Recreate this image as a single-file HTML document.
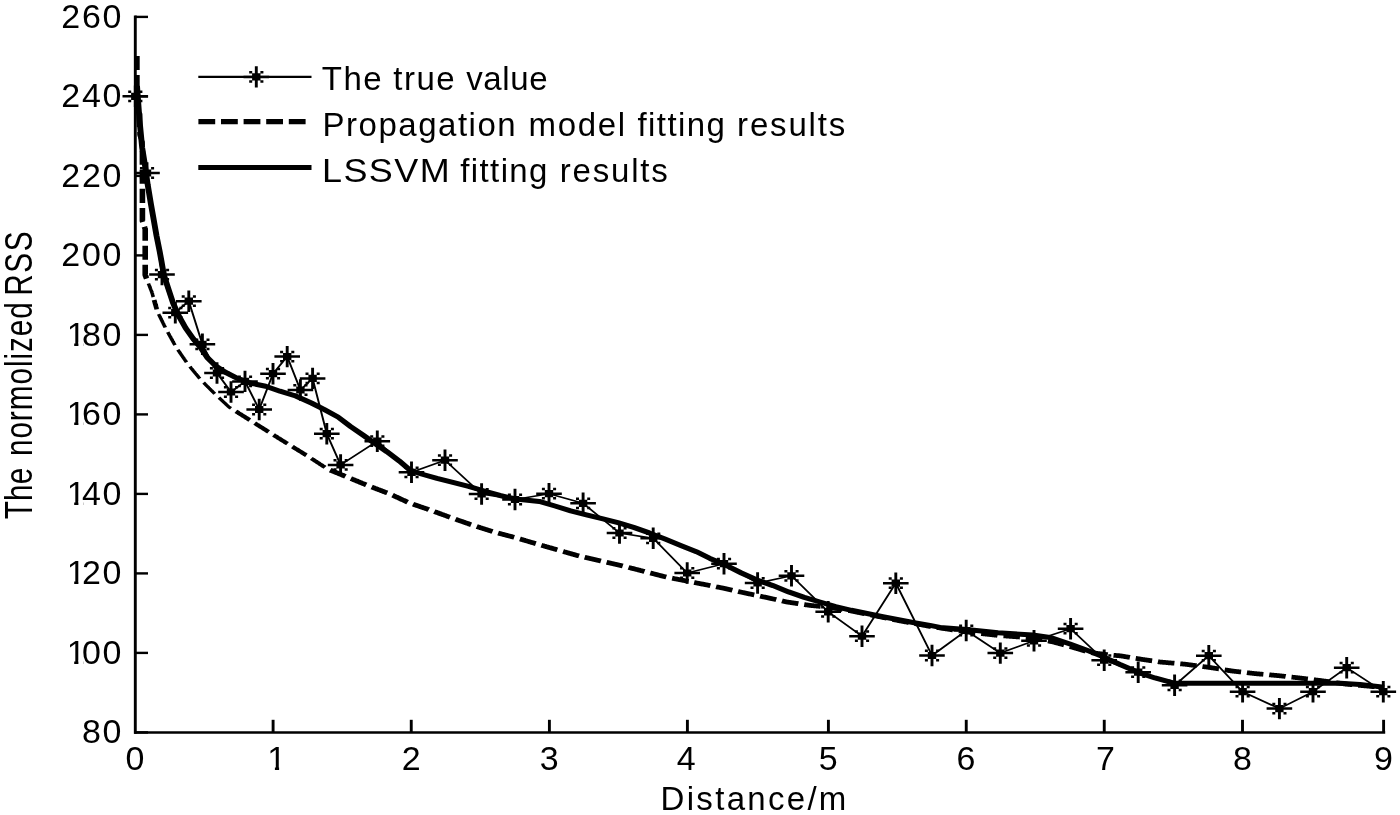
<!DOCTYPE html>
<html lang="en"><head><meta charset="utf-8"><title>RSS fitting</title>
<style>
html,body{margin:0;padding:0;background:#fff;}
body{width:1400px;height:815px;overflow:hidden;}
svg{display:block;filter:grayscale(1);}
text{font-family:"Liberation Sans",Arial,Helvetica,sans-serif;fill:#000;}
.tk{font-size:33px;}
.lg{font-size:33px;}
</style></head><body>
<svg width="1400" height="815" viewBox="0 0 1400 815">
<rect width="1400" height="815" fill="#fff"/>

<g stroke="#000" stroke-width="2.6" fill="none">
<line x1="135.3" y1="15.4" x2="135.3" y2="733.7" stroke-width="2.9"/>
<line x1="134" y1="732.5" x2="1385.2" y2="732.5" stroke-width="2.5"/>
<line x1="135" y1="732.40" x2="148" y2="732.40" stroke-width="2.4"/>
<line x1="135" y1="652.90" x2="148" y2="652.90" stroke-width="2.4"/>
<line x1="135" y1="573.40" x2="148" y2="573.40" stroke-width="2.4"/>
<line x1="135" y1="493.90" x2="148" y2="493.90" stroke-width="2.4"/>
<line x1="135" y1="414.40" x2="148" y2="414.40" stroke-width="2.4"/>
<line x1="135" y1="334.90" x2="148" y2="334.90" stroke-width="2.4"/>
<line x1="135" y1="255.40" x2="148" y2="255.40" stroke-width="2.4"/>
<line x1="135" y1="175.90" x2="148" y2="175.90" stroke-width="2.4"/>
<line x1="135" y1="96.40" x2="148" y2="96.40" stroke-width="2.4"/>
<line x1="135" y1="16.90" x2="148" y2="16.90" stroke-width="2.4"/>
<line x1="273.10" y1="719.8" x2="273.10" y2="732.5" stroke-width="2.9"/>
<line x1="411.25" y1="719.8" x2="411.25" y2="732.5" stroke-width="2.9"/>
<line x1="549.40" y1="719.8" x2="549.40" y2="732.5" stroke-width="2.9"/>
<line x1="687.40" y1="719.8" x2="687.40" y2="732.5" stroke-width="2.9"/>
<line x1="828.40" y1="719.8" x2="828.40" y2="732.5" stroke-width="2.9"/>
<line x1="966.25" y1="719.8" x2="966.25" y2="732.5" stroke-width="2.9"/>
<line x1="1104.25" y1="719.8" x2="1104.25" y2="732.5" stroke-width="2.9"/>
<line x1="1242.50" y1="719.8" x2="1242.50" y2="732.5" stroke-width="2.9"/>
<line x1="1383.60" y1="719.8" x2="1383.60" y2="732.5" stroke-width="2.9"/>
</g>
<text class="tk" transform="translate(123.2,743.0) scale(1.03,1)" text-anchor="end" letter-spacing="1.7">80</text>
<text class="tk" transform="translate(61.25,663.5) scale(1.03,1)" letter-spacing="1.7" dx="5.24 -5.24 0">100</text><rect x="67.85" y="660.4" width="6.35" height="4.4" fill="#fff"/><rect x="78.40" y="660.4" width="5.4" height="4.4" fill="#fff"/>
<text class="tk" transform="translate(61.25,584.0) scale(1.03,1)" letter-spacing="1.7" dx="5.24 -5.24 0">120</text><rect x="67.85" y="580.9" width="6.35" height="4.4" fill="#fff"/><rect x="78.40" y="580.9" width="5.4" height="4.4" fill="#fff"/>
<text class="tk" transform="translate(61.25,504.5) scale(1.03,1)" letter-spacing="1.7" dx="5.24 -5.24 0">140</text><rect x="67.85" y="501.4" width="6.35" height="4.4" fill="#fff"/><rect x="78.40" y="501.4" width="5.4" height="4.4" fill="#fff"/>
<text class="tk" transform="translate(61.25,425.0) scale(1.03,1)" letter-spacing="1.7" dx="5.24 -5.24 0">160</text><rect x="67.85" y="421.9" width="6.35" height="4.4" fill="#fff"/><rect x="78.40" y="421.9" width="5.4" height="4.4" fill="#fff"/>
<text class="tk" transform="translate(61.25,345.5) scale(1.03,1)" letter-spacing="1.7" dx="5.24 -5.24 0">180</text><rect x="67.85" y="342.4" width="6.35" height="4.4" fill="#fff"/><rect x="78.40" y="342.4" width="5.4" height="4.4" fill="#fff"/>
<text class="tk" transform="translate(123.2,266.0) scale(1.03,1)" text-anchor="end" letter-spacing="1.7">200</text>
<text class="tk" transform="translate(123.2,186.5) scale(1.03,1)" text-anchor="end" letter-spacing="1.7">220</text>
<text class="tk" transform="translate(123.2,107.0) scale(1.03,1)" text-anchor="end" letter-spacing="1.7">240</text>
<text class="tk" transform="translate(123.2,27.5) scale(1.03,1)" text-anchor="end" letter-spacing="1.7">260</text>
<text class="tk" transform="translate(135.0,770.1) scale(1.03,1)" text-anchor="middle" letter-spacing="0">0</text>
<text class="tk" transform="translate(267.35,770.1) scale(1.03,1)">1</text><rect x="268.55" y="767.0" width="6.35" height="4.4" fill="#fff"/><rect x="279.10" y="767.0" width="7.00" height="4.4" fill="#fff"/>
<text class="tk" transform="translate(411.1,770.1) scale(1.03,1)" text-anchor="middle" letter-spacing="0">2</text>
<text class="tk" transform="translate(549.2,770.1) scale(1.03,1)" text-anchor="middle" letter-spacing="0">3</text>
<text class="tk" transform="translate(686.2,770.1) scale(1.03,1)" text-anchor="middle" letter-spacing="0">4</text>
<text class="tk" transform="translate(828.3,770.1) scale(1.03,1)" text-anchor="middle" letter-spacing="0">5</text>
<text class="tk" transform="translate(966.0,770.1) scale(1.03,1)" text-anchor="middle" letter-spacing="0">6</text>
<text class="tk" transform="translate(1105.5,770.1) scale(1.03,1)" text-anchor="middle" letter-spacing="0">7</text>
<text class="tk" transform="translate(1242.4,770.1) scale(1.03,1)" text-anchor="middle" letter-spacing="0">8</text>
<text class="tk" transform="translate(1383.5,770.1) scale(1.03,1)" text-anchor="middle" letter-spacing="0">9</text>
<text class="lg" transform="translate(660.60,810.4) scale(1.0,1)" letter-spacing="2.30">Distance/m</text>
<text class="lg" transform="translate(32.3,519.20) rotate(-90) scale(0.9,1.19)" letter-spacing="0.19">The</text>
<text class="lg" transform="translate(32.3,456.10) rotate(-90) scale(0.9,1.19)" letter-spacing="1.08">normolized</text>
<text class="lg" transform="translate(32.3,295.84) rotate(-90) scale(0.9,1.19)" letter-spacing="1.84">RSS</text>
<g transform="scale(2.8,2.38)" fill="none" stroke="#000" stroke-linejoin="round">
<path d="M53.03,119.12 L53.09,119.32 L53.16,119.51 L53.22,119.70 L53.28,119.89 L53.35,120.08 L53.41,120.27 L53.47,120.46 L53.53,120.65 L53.60,120.84 L53.66,121.03 L53.72,121.22 L53.78,121.41 L53.85,121.61 L53.91,121.80 L53.97,121.99 L54.04,122.18 L54.10,122.37 L54.16,122.56 L54.22,122.75 L54.29,122.94 L54.33,123.14 L54.38,123.33 L54.43,123.52 L54.48,123.72 L54.52,123.91 L54.57,124.11 L54.62,124.30 L54.66,124.50 L54.71,124.69 L54.75,124.84 M56.66,131.98 L56.74,132.17 L56.81,132.35 L56.89,132.54 L56.97,132.72 L57.05,132.91 L57.13,133.09 L57.20,133.28 L57.28,133.46 L57.36,133.65 L57.44,133.83 L57.51,134.02 L57.59,134.20 L57.67,134.39 L57.75,134.58 L57.83,134.76 L57.90,134.95 L57.98,135.13 L58.06,135.32 L58.14,135.50 L58.22,135.69 L58.29,135.87 L58.37,136.06 L58.45,136.24 L58.53,136.43 L58.60,136.61 L58.68,136.80 L58.76,136.98 L58.84,137.17 L58.92,137.36 L58.99,137.54 L59.01,137.59 M59.91,139.55 L59.99,139.73 L60.08,139.91 L60.16,140.09 L60.25,140.27 L60.33,140.45 L60.42,140.64 L60.50,140.82 L60.59,141.00 L60.68,141.18 L60.76,141.36 L60.85,141.54 L60.93,141.72 L61.02,141.90 L61.10,142.08 L61.19,142.27 L61.27,142.45 L61.36,142.63 L61.45,142.81 L61.53,142.99 L61.62,143.17 L61.70,143.35 L61.79,143.53 L61.87,143.72 L61.96,143.90 L62.04,144.08 L62.13,144.26 L62.22,144.44 L62.30,144.62 L62.39,144.80 L62.47,144.98 L62.49,145.03 M63.52,146.92 L63.62,147.10 L63.72,147.27 L63.82,147.44 L63.92,147.62 L64.02,147.79 L64.12,147.96 L64.23,148.14 L64.33,148.31 L64.43,148.48 L64.53,148.66 L64.63,148.83 L64.73,149.00 L64.83,149.18 L64.94,149.35 L65.04,149.52 L65.14,149.70 L65.24,149.87 L65.34,150.04 L65.44,150.22 L65.54,150.39 L65.65,150.56 L65.75,150.74 L65.85,150.91 L65.95,151.08 L66.05,151.26 L66.15,151.43 L66.25,151.60 L66.36,151.78 L66.46,151.95 L66.56,152.12 L66.61,152.21 M67.83,154.05 L67.94,154.21 L68.06,154.37 L68.17,154.54 L68.29,154.70 L68.40,154.87 L68.52,155.03 L68.63,155.19 L68.75,155.36 L68.86,155.52 L68.98,155.69 L69.09,155.85 L69.21,156.01 L69.32,156.18 L69.44,156.34 L69.56,156.50 L69.67,156.67 L69.79,156.83 L69.90,157.00 L70.02,157.16 L70.13,157.32 L70.25,157.49 L70.36,157.65 L70.48,157.82 L70.59,157.98 L70.71,158.14 L70.82,158.31 L70.94,158.47 L71.05,158.64 L71.17,158.80 L71.28,158.96 L71.34,159.05 M72.72,160.77 L72.85,160.92 L72.98,161.07 L73.11,161.22 L73.24,161.38 L73.37,161.53 L73.50,161.68 L73.63,161.84 L73.76,161.99 L73.89,162.14 L74.02,162.30 L74.15,162.45 L74.28,162.60 L74.41,162.75 L74.54,162.91 L74.67,163.06 L74.80,163.21 L74.93,163.37 L75.06,163.52 L75.19,163.67 L75.32,163.83 L75.45,163.98 L75.58,164.13 L75.71,164.28 L75.84,164.44 L75.97,164.59 L76.10,164.74 L76.23,164.90 L76.36,165.05 L76.49,165.20 L76.62,165.35 L76.72,165.47 M78.20,167.10 L78.34,167.24 L78.47,167.39 L78.61,167.54 L78.75,167.69 L78.88,167.83 L79.02,167.98 L79.15,168.13 L79.29,168.28 L79.42,168.42 L79.56,168.57 L79.69,168.72 L79.83,168.87 L79.96,169.02 L80.10,169.16 L80.23,169.31 L80.37,169.46 L80.50,169.61 L80.64,169.75 L80.77,169.90 L80.91,170.05 L81.04,170.20 L81.18,170.34 L81.31,170.49 L81.45,170.64 L81.58,170.79 L81.72,170.93 L81.87,171.07 L82.03,171.19 L82.19,171.31 L82.35,171.42 L82.51,171.54" stroke-width="1.3"/><path d="M111.19,192.59 L111.35,192.72 L111.51,192.84 L111.66,192.96 L111.82,193.08 L111.98,193.21 L112.14,193.33 L112.30,193.45 L112.45,193.57 L112.61,193.69 L112.77,193.82 L112.93,193.94 L113.09,194.06 L113.25,194.18 L113.40,194.31 L113.56,194.43 L113.72,194.55 L113.88,194.67 L114.04,194.80 L114.20,194.92 L114.35,195.04 L114.51,195.16 L114.67,195.29 L114.83,195.41 L114.99,195.53 L115.14,195.65 L115.30,195.77 L115.46,195.90 L115.62,196.02 L115.78,196.14 L115.94,196.26 L116.05,196.36" stroke-width="1.6"/><path d="M49.86,55.47 L49.86,55.67 L49.86,55.87 L49.86,56.07 L49.86,56.27 L49.86,56.47 L49.86,56.67 L49.91,56.87 L49.97,57.05 L50.03,57.24 L50.10,57.43 L50.16,57.62 L50.23,57.81 L50.29,58.00 L50.36,58.19 L50.42,58.38 L50.49,58.57 L50.55,58.76 L50.62,58.95 L50.68,59.14 L50.74,59.33 L50.81,59.52 L50.86,59.71 L50.86,59.91 L50.86,60.11 L50.86,60.31 L50.86,60.51 L50.86,60.72 L50.86,60.92 L50.86,61.12 L50.86,61.22 M55.04,126.05 L55.09,126.25 L55.14,126.44 L55.19,126.63 L55.23,126.83 L55.28,127.02 L55.33,127.22 L55.37,127.41 L55.42,127.61 L55.47,127.80 L55.52,128.00 L55.56,128.19 L55.61,128.38 L55.66,128.58 L55.71,128.77 L55.75,128.97 L55.80,129.16 L55.85,129.36 L55.90,129.55 L55.94,129.74 L55.99,129.94 L56.00,129.99 M84.24,172.82 L84.41,172.94 L84.57,173.06 L84.73,173.18 L84.89,173.30 L85.05,173.42 L85.21,173.54 L85.37,173.66 L85.53,173.77 L85.69,173.89 L85.86,174.01 L86.02,174.13 L86.18,174.25 L86.34,174.37 L86.50,174.49 L86.66,174.61 L86.82,174.73 L86.98,174.85 L87.15,174.96 L87.31,175.08 L87.47,175.20 L87.63,175.32 L87.79,175.44 L87.95,175.56 L88.11,175.68 L88.27,175.80 L88.43,175.92 L88.60,176.04 L88.76,176.15 L88.92,176.27 L89.08,176.39 L89.20,176.48 M90.97,177.79 L91.13,177.91 L91.30,178.03 L91.46,178.15 L91.62,178.27 L91.78,178.39 L91.94,178.50 L92.10,178.62 L92.26,178.74 L92.42,178.86 L92.59,178.98 L92.75,179.10 L92.91,179.22 L93.07,179.34 L93.23,179.46 L93.39,179.58 L93.55,179.69 L93.71,179.81 L93.87,179.93 L94.04,180.05 L94.20,180.17 L94.36,180.29 L94.52,180.41 L94.68,180.53 L94.84,180.65 L95.00,180.77 L95.16,180.88 L95.33,181.00 L95.49,181.12 L95.65,181.24 L95.81,181.36 L95.93,181.45 M97.70,182.76 L97.86,182.88 L98.03,183.00 L98.19,183.12 L98.35,183.23 L98.51,183.35 L98.67,183.47 L98.83,183.59 L98.99,183.71 L99.15,183.83 L99.31,183.95 L99.48,184.07 L99.64,184.19 L99.80,184.31 L99.96,184.42 L100.12,184.54 L100.28,184.66 L100.45,184.78 L100.61,184.90 L100.77,185.01 L100.93,185.13 L101.10,185.25 L101.26,185.37 L101.42,185.48 L101.58,185.60 L101.75,185.72 L101.91,185.84 L102.07,185.96 L102.23,186.07 L102.39,186.19 L102.56,186.31 L102.68,186.40 M104.42,187.66 L104.59,187.78 L104.75,187.90 L104.91,188.02 L105.07,188.13 L105.24,188.25 L105.40,188.37 L105.56,188.49 L105.72,188.61 L105.88,188.72 L106.05,188.84 L106.21,188.96 L106.37,189.08 L106.53,189.19 L106.70,189.31 L106.86,189.43 L107.02,189.55 L107.18,189.67 L107.35,189.78 L107.51,189.90 L107.67,190.02 L107.83,190.14 L108.00,190.25 L108.16,190.37 L108.32,190.49 L108.48,190.61 L108.64,190.73 L108.81,190.84 L108.97,190.96 L109.13,191.08 L109.29,191.20 L109.42,191.28" stroke-width="1.7"/><path d="M48.89,23.53 L48.89,23.73 L48.89,23.93 L48.89,24.13 L48.89,24.33 L48.89,24.53 L48.89,24.73 L48.89,24.93 L48.89,25.13 L48.89,25.33 L48.89,25.53 L48.89,25.73 L48.89,25.93 L48.89,26.13 L48.89,26.33 L48.89,26.53 L48.89,26.73 L48.89,26.93 L48.89,27.13 L48.89,27.33 L48.89,27.53 L48.89,27.74 L48.89,27.94 L48.89,28.14 L48.89,28.34 L48.89,28.54 L48.89,28.74 L48.89,28.94 L48.89,29.14 L48.89,29.34 L48.89,29.44 M48.89,31.54 L48.89,31.74 L48.89,31.94 L48.89,32.14 L48.89,32.34 L48.89,32.54 L48.89,32.74 L48.89,32.94 L48.89,33.14 L48.89,33.34 L48.89,33.54 L48.89,33.74 L48.89,33.94 L48.89,34.14 L48.89,34.34 L48.89,34.54 L48.89,34.74 L48.89,34.94 L48.89,35.14 L48.89,35.35 L48.89,35.55 L48.89,35.75 L48.89,35.95 L48.89,36.15 L48.89,36.35 L48.89,36.55 L48.89,36.75 L48.89,36.95 L48.89,37.15 L48.89,37.35 L48.89,37.45 M48.89,39.55 L48.89,39.75 L48.89,39.95 L48.89,40.15 L48.89,40.35 L48.89,40.55 L48.89,40.75 L48.89,40.95 L48.89,41.15 L48.89,41.35 L48.89,41.55 L48.89,41.75 L48.89,41.95 L48.89,42.15 L48.89,42.35 L48.89,42.55 L48.89,42.76 L48.89,42.96 L48.89,43.16 L48.89,43.36 L48.89,43.56 L48.89,43.76 L48.89,43.96 L48.89,44.16 L48.89,44.36 L48.89,44.56 L48.89,44.76 L48.89,44.96 L48.96,45.15 L49.02,45.34 L49.05,45.44 M49.71,47.47 L49.78,47.66 L49.84,47.85 L49.86,48.05 L49.86,48.25 L49.86,48.45 L49.86,48.65 L49.86,48.85 L49.86,49.05 L49.86,49.25 L49.86,49.45 L49.86,49.65 L49.86,49.85 L49.86,50.05 L49.86,50.26 L49.86,50.46 L49.86,50.66 L49.86,50.86 L49.86,51.06 L49.86,51.26 L49.86,51.46 L49.86,51.66 L49.86,51.86 L49.86,52.06 L49.86,52.26 L49.86,52.46 L49.86,52.66 L49.86,52.86 L49.86,53.06 L49.86,53.26 L49.86,53.36 M50.86,63.32 L50.86,63.52 L50.86,63.72 L50.86,63.92 L50.86,64.12 L50.86,64.32 L50.86,64.52 L50.86,64.72 L50.86,64.92 L50.86,65.12 L50.86,65.32 L50.86,65.52 L50.86,65.72 L50.86,65.92 L50.86,66.12 L50.86,66.32 L50.86,66.52 L50.86,66.72 L50.86,66.92 L50.86,67.12 L50.86,67.32 L50.86,67.52 L50.86,67.72 L50.86,67.92 L50.86,68.12 L50.86,68.33 L50.86,68.53 L50.86,68.73 L50.86,68.93 L50.86,69.13 L50.86,69.23 M50.86,71.33 L50.86,71.53 L50.86,71.73 L50.86,71.93 L50.86,72.13 L50.86,72.33 L50.86,72.53 L50.86,72.73 L50.86,72.93 L50.86,73.13 L50.86,73.33 L50.86,73.53 L50.86,73.73 L50.86,73.93 L50.86,74.13 L50.86,74.33 L50.86,74.53 L50.86,74.73 L50.86,74.93 L50.86,75.13 L50.86,75.33 L50.86,75.53 L50.86,75.73 L50.86,75.94 L50.86,76.14 L50.86,76.34 L50.86,76.54 L50.86,76.74 L50.86,76.94 L50.86,77.14 L50.86,77.24 M50.86,79.34 L50.86,79.54 L50.86,79.74 L50.86,79.94 L50.86,80.14 L50.86,80.34 L50.86,80.54 L50.86,80.74 L50.86,80.94 L50.86,81.14 L50.86,81.34 L50.86,81.54 L50.86,81.74 L50.86,81.94 L50.86,82.14 L50.86,82.34 L50.86,82.54 L50.86,82.74 L50.86,82.94 L50.86,83.14 L50.86,83.34 L50.86,83.55 L50.86,83.75 L50.86,83.95 L50.86,84.15 L50.86,84.35 L50.86,84.55 L50.86,84.75 L50.86,84.95 L50.86,85.15 L50.86,85.25 M50.86,87.35 L50.86,87.55 L50.86,87.75 L50.86,87.95 L50.86,88.15 L50.86,88.35 L50.86,88.55 L50.86,88.75 L50.86,88.95 L50.86,89.15 L50.86,89.35 L50.86,89.55 L50.86,89.75 L50.86,89.95 L50.86,90.15 L50.86,90.35 L50.86,90.55 L50.86,90.75 L50.86,90.95 L50.86,91.15 L50.86,91.36 L50.86,91.56 L50.86,91.76 L50.86,91.96 L50.86,92.16 L50.86,92.36 L50.86,92.56 L50.86,92.76 L50.89,92.95 L50.94,93.15 L50.97,93.24 M51.57,95.26 L51.63,95.45 L51.69,95.64 L51.74,95.83 L51.80,96.03 L51.86,96.22 L51.86,96.42 L51.86,96.62 L51.86,96.82 L51.86,97.02 L51.86,97.22 L51.86,97.42 L51.86,97.62 L51.86,97.82 L51.86,98.02 L51.86,98.22 L51.86,98.42 L51.86,98.62 L51.86,98.82 L51.86,99.02 L51.86,99.22 L51.86,99.42 L51.86,99.62 L51.86,99.82 L51.86,100.02 L51.86,100.22 L51.86,100.42 L51.86,100.62 L51.86,100.83 L51.86,101.03 L51.86,101.13 M51.86,103.23 L51.86,103.43 L51.86,103.63 L51.86,103.83 L51.86,104.03 L51.86,104.23 L51.86,104.43 L51.86,104.63 L51.86,104.83 L51.86,105.03 L51.86,105.23 L51.86,105.43 L51.86,105.63 L51.86,105.83 L51.86,106.03 L51.86,106.23 L51.86,106.43 L51.86,106.63 L51.86,106.83 L51.86,107.03 L51.86,107.23 L51.86,107.43 L51.86,107.63 L51.86,107.84 L51.86,108.04 L51.86,108.24 L51.86,108.44 L51.86,108.64 L51.86,108.84 L51.86,109.04 L51.86,109.14 M51.86,111.24 L51.86,111.44 L51.86,111.64 L51.86,111.84 L51.86,112.04 L51.86,112.24 L51.86,112.44 L51.86,112.64 L51.86,112.84 L51.86,113.04 L51.86,113.24 L51.86,113.44 L51.86,113.64 L51.86,113.84 L51.86,114.04 L51.86,114.24 L51.86,114.44 L51.86,114.64 L51.86,114.85 L51.86,115.05 L51.86,115.25 L51.86,115.45 L51.89,115.64 L51.95,115.83 L52.01,116.02 L52.08,116.21 L52.14,116.40 L52.20,116.60 L52.26,116.79 L52.33,116.98 L52.36,117.07 M117.91,197.51 L118.09,197.60 L118.27,197.69 L118.45,197.78 L118.63,197.86 L118.81,197.95 L118.99,198.04 L119.17,198.12 L119.35,198.21 L119.53,198.30 L119.71,198.38 L119.89,198.47 L120.07,198.56 L120.25,198.64 L120.43,198.73 L120.61,198.82 L120.79,198.90 L120.97,198.99 L121.15,199.08 L121.33,199.16 L121.51,199.25 L121.69,199.34 L121.87,199.43 L122.05,199.51 L122.24,199.60 L122.42,199.69 L122.60,199.77 L122.78,199.86 L122.96,199.95 L123.14,200.03 L123.32,200.12 L123.36,200.14 M125.30,201.08 L125.48,201.16 L125.66,201.25 L125.84,201.34 L126.02,201.42 L126.20,201.51 L126.38,201.60 L126.56,201.68 L126.74,201.77 L126.92,201.86 L127.10,201.94 L127.28,202.03 L127.46,202.12 L127.64,202.20 L127.82,202.29 L128.00,202.38 L128.18,202.46 L128.36,202.55 L128.54,202.64 L128.72,202.73 L128.90,202.81 L129.08,202.90 L129.26,202.99 L129.44,203.07 L129.62,203.16 L129.80,203.25 L129.98,203.33 L130.16,203.42 L130.34,203.51 L130.52,203.59 L130.70,203.68 L130.79,203.72 M132.75,204.63 L132.93,204.71 L133.11,204.80 L133.29,204.88 L133.48,204.96 L133.66,205.04 L133.84,205.12 L134.03,205.21 L134.21,205.29 L134.39,205.37 L134.58,205.45 L134.76,205.53 L134.94,205.62 L135.12,205.70 L135.31,205.78 L135.49,205.86 L135.67,205.94 L135.86,206.03 L136.04,206.11 L136.22,206.19 L136.40,206.27 L136.59,206.35 L136.77,206.44 L136.95,206.52 L137.14,206.60 L137.32,206.68 L137.50,206.76 L137.69,206.85 L137.87,206.93 L138.05,207.01 L138.23,207.09 L138.28,207.11 M140.21,208.07 L140.39,208.16 L140.56,208.26 L140.74,208.36 L140.92,208.45 L141.09,208.55 L141.27,208.64 L141.44,208.74 L141.62,208.84 L141.80,208.93 L141.97,209.03 L142.15,209.12 L142.33,209.22 L142.50,209.32 L142.68,209.41 L142.85,209.51 L143.03,209.60 L143.21,209.70 L143.38,209.80 L143.56,209.89 L143.74,209.99 L143.91,210.08 L144.09,210.18 L144.26,210.28 L144.44,210.37 L144.62,210.47 L144.79,210.56 L144.97,210.66 L145.15,210.76 L145.32,210.85 L145.50,210.95 L145.59,211.00 M147.52,211.84 L147.70,211.92 L147.89,211.99 L148.07,212.07 L148.26,212.14 L148.45,212.22 L148.63,212.29 L148.82,212.37 L149.01,212.44 L149.19,212.52 L149.38,212.59 L149.57,212.67 L149.75,212.74 L149.94,212.82 L150.12,212.90 L150.31,212.97 L150.50,213.05 L150.68,213.12 L150.87,213.20 L151.06,213.27 L151.24,213.35 L151.43,213.42 L151.61,213.50 L151.80,213.57 L151.99,213.65 L152.17,213.72 L152.36,213.80 L152.55,213.87 L152.73,213.95 L152.92,214.02 L153.11,214.10 L153.15,214.12 M155.10,214.94 L155.28,215.02 L155.47,215.10 L155.65,215.18 L155.84,215.25 L156.02,215.33 L156.21,215.41 L156.39,215.49 L156.58,215.57 L156.76,215.65 L156.95,215.73 L157.13,215.81 L157.32,215.89 L157.50,215.97 L157.68,216.05 L157.87,216.12 L158.05,216.20 L158.24,216.28 L158.42,216.36 L158.61,216.44 L158.79,216.52 L158.98,216.60 L159.16,216.68 L159.35,216.76 L159.53,216.84 L159.72,216.92 L159.90,216.99 L160.09,217.07 L160.27,217.15 L160.46,217.23 L160.64,217.31 L160.69,217.33 M162.68,218.16 L162.87,218.24 L163.05,218.32 L163.24,218.39 L163.42,218.47 L163.61,218.54 L163.79,218.62 L163.98,218.70 L164.17,218.77 L164.35,218.85 L164.54,218.93 L164.72,219.00 L164.91,219.08 L165.09,219.16 L165.28,219.23 L165.46,219.31 L165.65,219.39 L165.83,219.46 L166.02,219.54 L166.21,219.61 L166.39,219.69 L166.58,219.77 L166.76,219.84 L166.95,219.92 L167.13,220.00 L167.32,220.07 L167.50,220.15 L167.69,220.23 L167.88,220.30 L168.06,220.38 L168.25,220.45 M170.27,221.22 L170.45,221.29 L170.64,221.36 L170.83,221.43 L171.02,221.50 L171.21,221.57 L171.39,221.64 L171.58,221.72 L171.77,221.79 L171.96,221.86 L172.15,221.93 L172.34,222.00 L172.52,222.07 L172.71,222.14 L172.90,222.21 L173.09,222.28 L173.28,222.35 L173.46,222.42 L173.65,222.49 L173.84,222.56 L174.03,222.63 L174.22,222.70 L174.41,222.77 L174.59,222.84 L174.78,222.91 L174.97,222.98 L175.16,223.05 L175.35,223.12 L175.53,223.19 L175.72,223.27 L175.91,223.34 M177.92,223.99 L178.11,224.05 L178.30,224.11 L178.50,224.17 L178.69,224.23 L178.88,224.28 L179.07,224.34 L179.27,224.40 L179.46,224.46 L179.65,224.52 L179.84,224.58 L180.03,224.64 L180.23,224.70 L180.42,224.76 L180.61,224.82 L180.80,224.88 L181.00,224.94 L181.19,225.00 L181.38,225.06 L181.57,225.11 L181.77,225.17 L181.96,225.23 L182.15,225.29 L182.34,225.35 L182.53,225.41 L182.73,225.47 L182.92,225.53 L183.11,225.59 L183.30,225.65 L183.50,225.71 L183.64,225.75 M185.68,226.45 L185.87,226.51 L186.06,226.58 L186.25,226.65 L186.44,226.71 L186.63,226.78 L186.82,226.84 L187.01,226.91 L187.19,226.98 L187.38,227.04 L187.57,227.11 L187.76,227.17 L187.95,227.24 L188.14,227.30 L188.33,227.37 L188.52,227.44 L188.71,227.50 L188.90,227.57 L189.09,227.63 L189.28,227.70 L189.47,227.77 L189.66,227.83 L189.85,227.90 L190.03,227.96 L190.22,228.03 L190.41,228.09 L190.60,228.16 L190.79,228.23 L190.98,228.29 L191.17,228.36 L191.36,228.42 M193.35,229.10 L193.54,229.16 L193.73,229.23 L193.92,229.29 L194.11,229.35 L194.30,229.42 L194.49,229.48 L194.68,229.54 L194.87,229.61 L195.06,229.67 L195.25,229.74 L195.44,229.80 L195.63,229.86 L195.82,229.93 L196.01,229.99 L196.20,230.06 L196.39,230.12 L196.58,230.18 L196.77,230.25 L196.96,230.31 L197.15,230.37 L197.34,230.44 L197.53,230.50 L197.72,230.57 L197.91,230.63 L198.10,230.69 L198.29,230.76 L198.48,230.82 L198.67,230.89 L198.86,230.95 L199.05,231.01 M201.09,231.70 L201.28,231.76 L201.47,231.83 L201.66,231.89 L201.85,231.95 L202.04,232.02 L202.23,232.08 L202.42,232.15 L202.61,232.21 L202.80,232.27 L202.99,232.34 L203.18,232.40 L203.37,232.46 L203.56,232.53 L203.75,232.59 L203.94,232.66 L204.13,232.72 L204.32,232.78 L204.51,232.85 L204.70,232.91 L204.89,232.98 L205.08,233.04 L205.27,233.10 L205.46,233.17 L205.65,233.23 L205.84,233.29 L206.03,233.36 L206.22,233.42 L206.41,233.49 L206.60,233.55 L206.79,233.61 M208.82,234.16 L209.01,234.21 L209.20,234.26 L209.40,234.31 L209.59,234.36 L209.78,234.41 L209.98,234.47 L210.17,234.52 L210.36,234.57 L210.56,234.62 L210.75,234.67 L210.94,234.73 L211.14,234.78 L211.33,234.83 L211.52,234.88 L211.72,234.93 L211.91,234.98 L212.10,235.04 L212.30,235.09 L212.49,235.14 L212.68,235.19 L212.88,235.24 L213.07,235.29 L213.26,235.35 L213.46,235.40 L213.65,235.45 L213.85,235.50 L214.04,235.55 L214.23,235.60 L214.43,235.66 L214.62,235.71 M216.65,236.25 L216.84,236.30 L217.04,236.35 L217.23,236.41 L217.42,236.46 L217.62,236.51 L217.81,236.56 L218.00,236.61 L218.20,236.66 L218.39,236.72 L218.58,236.77 L218.78,236.82 L218.97,236.87 L219.16,236.92 L219.36,236.97 L219.55,237.03 L219.74,237.08 L219.94,237.13 L220.13,237.18 L220.32,237.23 L220.52,237.29 L220.71,237.34 L220.90,237.39 L221.10,237.44 L221.29,237.49 L221.48,237.54 L221.68,237.60 L221.87,237.65 L222.06,237.70 L222.26,237.75 L222.40,237.79 M224.47,238.41 L224.66,238.47 L224.85,238.52 L225.04,238.58 L225.24,238.64 L225.43,238.70 L225.62,238.75 L225.81,238.81 L226.00,238.87 L226.20,238.93 L226.39,238.99 L226.58,239.04 L226.77,239.10 L226.96,239.16 L227.16,239.22 L227.35,239.27 L227.54,239.33 L227.73,239.39 L227.92,239.45 L228.11,239.50 L228.31,239.56 L228.50,239.62 L228.69,239.68 L228.88,239.74 L229.07,239.79 L229.27,239.85 L229.46,239.91 L229.65,239.97 L229.84,240.02 L230.03,240.08 L230.18,240.13 M232.24,240.75 L232.43,240.80 L232.63,240.86 L232.82,240.92 L233.01,240.98 L233.20,241.04 L233.39,241.09 L233.59,241.15 L233.78,241.21 L233.97,241.27 L234.16,241.32 L234.35,241.38 L234.55,241.44 L234.74,241.50 L234.93,241.56 L235.12,241.61 L235.31,241.67 L235.51,241.73 L235.70,241.79 L235.89,241.84 L236.08,241.90 L236.27,241.96 L236.47,242.02 L236.66,242.08 L236.85,242.13 L237.04,242.19 L237.23,242.25 L237.43,242.31 L237.62,242.36 L237.81,242.42 L237.95,242.46 M240.05,242.94 L240.25,242.98 L240.44,243.03 L240.64,243.07 L240.83,243.12 L241.03,243.16 L241.22,243.21 L241.42,243.25 L241.61,243.30 L241.81,243.34 L242.00,243.39 L242.20,243.43 L242.39,243.48 L242.58,243.52 L242.78,243.56 L242.97,243.61 L243.17,243.65 L243.36,243.70 L243.56,243.74 L243.75,243.79 L243.95,243.83 L244.14,243.88 L244.34,243.92 L244.53,243.97 L244.73,244.01 L244.92,244.06 L245.12,244.10 L245.31,244.15 L245.51,244.19 L245.70,244.23 L245.85,244.27 M247.90,244.74 L248.09,244.78 L248.29,244.83 L248.48,244.87 L248.68,244.92 L248.87,244.96 L249.07,245.00 L249.26,245.05 L249.46,245.09 L249.65,245.14 L249.85,245.18 L250.04,245.23 L250.24,245.27 L250.43,245.32 L250.63,245.36 L250.82,245.41 L251.02,245.45 L251.21,245.50 L251.41,245.54 L251.60,245.59 L251.80,245.63 L251.99,245.67 L252.19,245.72 L252.38,245.76 L252.58,245.81 L252.77,245.85 L252.97,245.90 L253.16,245.94 L253.36,245.99 L253.55,246.03 L253.70,246.07 M255.74,246.53 L255.94,246.58 L256.13,246.62 L256.33,246.67 L256.52,246.71 L256.72,246.76 L256.91,246.80 L257.11,246.85 L257.30,246.89 L257.50,246.94 L257.69,246.98 L257.89,247.03 L258.08,247.07 L258.28,247.12 L258.47,247.17 L258.67,247.22 L258.86,247.27 L259.05,247.32 L259.25,247.38 L259.44,247.43 L259.63,247.48 L259.83,247.53 L260.02,247.58 L260.21,247.63 L260.41,247.68 L260.60,247.73 L260.79,247.78 L260.99,247.83 L261.18,247.88 L261.38,247.93 L261.57,247.98 M263.60,248.51 L263.80,248.56 L263.99,248.62 L264.18,248.67 L264.38,248.72 L264.57,248.77 L264.76,248.82 L264.96,248.87 L265.15,248.92 L265.35,248.97 L265.54,249.02 L265.73,249.07 L265.93,249.12 L266.12,249.17 L266.31,249.22 L266.51,249.27 L266.70,249.31 L266.90,249.36 L267.09,249.41 L267.29,249.46 L267.48,249.51 L267.68,249.55 L267.87,249.60 L268.06,249.65 L268.26,249.70 L268.45,249.74 L268.65,249.79 L268.84,249.84 L269.04,249.89 L269.23,249.94 L269.38,249.97 M271.47,250.48 L271.66,250.53 L271.86,250.58 L272.05,250.63 L272.24,250.68 L272.44,250.72 L272.63,250.77 L272.83,250.82 L273.02,250.87 L273.22,250.91 L273.41,250.96 L273.61,251.01 L273.80,251.06 L273.99,251.10 L274.19,251.15 L274.38,251.20 L274.58,251.25 L274.77,251.30 L274.96,251.35 L275.16,251.40 L275.35,251.45 L275.55,251.50 L275.74,251.55 L275.93,251.61 L276.13,251.66 L276.32,251.71 L276.52,251.76 L276.71,251.81 L276.90,251.86 L277.10,251.91 L277.24,251.95 M279.28,252.47 L279.47,252.53 L279.67,252.58 L279.86,252.63 L280.05,252.68 L280.25,252.73 L280.44,252.78 L280.64,252.83 L280.83,252.88 L281.02,252.93 L281.22,252.97 L281.42,253.00 L281.62,253.04 L281.81,253.07 L282.01,253.10 L282.21,253.14 L282.41,253.17 L282.61,253.21 L282.80,253.24 L283.00,253.28 L283.20,253.31 L283.40,253.35 L283.60,253.38 L283.79,253.41 L283.99,253.45 L284.19,253.48 L284.39,253.52 L284.58,253.55 L284.78,253.59 L284.98,253.62 L285.13,253.65 M287.21,254.01 L287.41,254.04 L287.60,254.08 L287.80,254.11 L288.00,254.15 L288.20,254.18 L288.40,254.21 L288.59,254.25 L288.79,254.28 L288.99,254.32 L289.19,254.35 L289.39,254.38 L289.59,254.40 L289.79,254.43 L289.99,254.45 L290.18,254.47 L290.38,254.49 L290.58,254.51 L290.78,254.54 L290.98,254.56 L291.18,254.58 L291.38,254.60 L291.58,254.63 L291.78,254.65 L291.98,254.67 L292.18,254.69 L292.38,254.72 L292.58,254.74 L292.78,254.76 L292.98,254.78 L293.08,254.79 M295.13,255.02 L295.33,255.05 L295.53,255.07 L295.73,255.09 L295.93,255.11 L296.13,255.13 L296.33,255.16 L296.53,255.19 L296.72,255.23 L296.92,255.27 L297.12,255.31 L297.32,255.35 L297.51,255.39 L297.71,255.43 L297.91,255.47 L298.11,255.51 L298.30,255.55 L298.50,255.59 L298.70,255.63 L298.89,255.67 L299.09,255.71 L299.29,255.75 L299.49,255.79 L299.68,255.83 L299.88,255.87 L300.08,255.91 L300.27,255.95 L300.47,255.99 L300.67,256.03 L300.87,256.07 L300.96,256.09 M303.04,256.51 L303.23,256.55 L303.43,256.59 L303.63,256.63 L303.82,256.67 L304.02,256.71 L304.22,256.76 L304.41,256.80 L304.61,256.85 L304.80,256.90 L305.00,256.94 L305.19,256.99 L305.39,257.04 L305.58,257.09 L305.78,257.13 L305.97,257.18 L306.17,257.23 L306.36,257.27 L306.56,257.32 L306.75,257.37 L306.95,257.41 L307.14,257.46 L307.34,257.51 L307.53,257.55 L307.73,257.60 L307.92,257.65 L308.12,257.69 L308.31,257.74 L308.51,257.79 L308.70,257.83 L308.85,257.87 M310.94,258.37 L311.14,258.42 L311.33,258.46 L311.53,258.51 L311.72,258.56 L311.92,258.60 L312.11,258.65 L312.31,258.70 L312.50,258.74 L312.70,258.79 L312.89,258.84 L313.09,258.88 L313.28,258.93 L313.48,258.98 L313.67,259.02 L313.87,259.07 L314.06,259.11 L314.26,259.16 L314.45,259.21 L314.65,259.25 L314.84,259.30 L315.04,259.35 L315.23,259.39 L315.43,259.44 L315.62,259.49 L315.81,259.53 L316.01,259.58 L316.20,259.63 L316.40,259.67 L316.59,259.72 L316.69,259.74 M318.79,260.24 L318.98,260.29 L319.18,260.34 L319.37,260.38 L319.56,260.43 L319.76,260.48 L319.95,260.52 L320.15,260.57 L320.34,260.62 L320.54,260.66 L320.73,260.71 L320.93,260.76 L321.12,260.80 L321.32,260.84 L321.52,260.88 L321.71,260.93 L321.91,260.97 L322.10,261.01 L322.30,261.05 L322.50,261.10 L322.69,261.14 L322.89,261.18 L323.08,261.22 L323.28,261.27 L323.48,261.31 L323.67,261.35 L323.87,261.39 L324.06,261.44 L324.26,261.48 L324.45,261.52 L324.60,261.55 M326.66,262.00 L326.85,262.04 L327.05,262.09 L327.25,262.13 L327.44,262.17 L327.64,262.21 L327.83,262.26 L328.03,262.30 L328.23,262.34 L328.42,262.38 L328.62,262.43 L328.81,262.47 L329.01,262.51 L329.20,262.55 L329.40,262.60 L329.60,262.64 L329.79,262.68 L329.99,262.73 L330.18,262.77 L330.38,262.81 L330.58,262.85 L330.77,262.90 L330.97,262.94 L331.16,262.98 L331.36,263.02 L331.56,263.07 L331.75,263.11 L331.95,263.15 L332.14,263.19 L332.34,263.23 L332.49,263.26 M334.56,263.63 L334.75,263.66 L334.95,263.70 L335.15,263.73 L335.35,263.77 L335.54,263.80 L335.74,263.84 L335.94,263.87 L336.13,263.91 L336.33,263.95 L336.53,263.98 L336.73,264.02 L336.92,264.05 L337.12,264.09 L337.32,264.12 L337.51,264.16 L337.71,264.19 L337.91,264.23 L338.11,264.26 L338.30,264.30 L338.50,264.33 L338.70,264.37 L338.89,264.41 L339.09,264.44 L339.29,264.48 L339.48,264.51 L339.68,264.55 L339.88,264.58 L340.08,264.62 L340.27,264.65 L340.37,264.67 M342.49,265.05 L342.69,265.09 L342.88,265.12 L343.08,265.16 L343.28,265.19 L343.48,265.23 L343.67,265.26 L343.87,265.30 L344.07,265.33 L344.26,265.37 L344.46,265.40 L344.66,265.44 L344.86,265.48 L345.05,265.51 L345.25,265.55 L345.45,265.57 L345.65,265.60 L345.85,265.62 L346.04,265.65 L346.24,265.67 L346.44,265.70 L346.64,265.72 L346.84,265.75 L347.04,265.77 L347.24,265.80 L347.44,265.83 L347.63,265.85 L347.83,265.88 L348.03,265.90 L348.23,265.93 L348.33,265.94 M350.42,266.21 L350.62,266.23 L350.81,266.26 L351.01,266.28 L351.21,266.31 L351.41,266.33 L351.61,266.36 L351.81,266.38 L352.01,266.41 L352.21,266.44 L352.40,266.46 L352.60,266.49 L352.80,266.51 L353.00,266.54 L353.20,266.56 L353.40,266.59 L353.60,266.61 L353.80,266.64 L353.99,266.66 L354.19,266.69 L354.39,266.71 L354.59,266.74 L354.79,266.77 L354.99,266.79 L355.19,266.82 L355.39,266.84 L355.58,266.87 L355.78,266.89 L355.98,266.92 L356.18,266.94 L356.28,266.96 M358.38,267.15 L358.58,267.16 L358.78,267.18 L358.98,267.20 L359.18,267.22 L359.38,267.23 L359.58,267.25 L359.78,267.27 L359.98,267.29 L360.18,267.31 L360.38,267.32 L360.58,267.34 L360.78,267.36 L360.98,267.38 L361.18,267.39 L361.38,267.41 L361.58,267.43 L361.78,267.45 L361.98,267.46 L362.18,267.48 L362.38,267.50 L362.58,267.52 L362.77,267.53 L362.97,267.55 L363.17,267.57 L363.37,267.59 L363.57,267.60 L363.77,267.62 L363.97,267.64 L364.17,267.66 L364.27,267.67 M366.37,267.85 L366.57,267.87 L366.77,267.89 L366.97,267.90 L367.17,267.92 L367.37,267.94 L367.57,267.96 L367.77,267.97 L367.97,267.99 L368.17,268.01 L368.37,268.03 L368.57,268.05 L368.77,268.06 L368.97,268.10 L369.17,268.14 L369.36,268.19 L369.56,268.23 L369.75,268.28 L369.95,268.32 L370.15,268.37 L370.34,268.41 L370.54,268.46 L370.74,268.50 L370.93,268.54 L371.13,268.59 L371.33,268.63 L371.52,268.68 L371.72,268.72 L371.92,268.77 L372.11,268.81 L372.21,268.83 M374.27,269.30 L374.47,269.34 L374.67,269.39 L374.86,269.43 L375.06,269.48 L375.25,269.52 L375.45,269.56 L375.65,269.61 L375.84,269.65 L376.04,269.71 L376.23,269.77 L376.42,269.83 L376.61,269.89 L376.80,269.95 L376.99,270.01 L377.18,270.07 L377.37,270.13 L377.56,270.19 L377.75,270.25 L377.94,270.31 L378.14,270.37 L378.33,270.43 L378.52,270.49 L378.71,270.55 L378.90,270.61 L379.09,270.67 L379.28,270.73 L379.47,270.79 L379.66,270.85 L379.85,270.92 L380.00,270.96 M382.05,271.61 L382.24,271.67 L382.43,271.74 L382.62,271.81 L382.81,271.87 L382.99,271.94 L383.18,272.01 L383.37,272.07 L383.56,272.14 L383.75,272.21 L383.94,272.27 L384.13,272.34 L384.32,272.41 L384.51,272.47 L384.70,272.54 L384.89,272.61 L385.08,272.67 L385.26,272.74 L385.45,272.81 L385.64,272.87 L385.83,272.94 L386.02,273.01 L386.21,273.07 L386.40,273.14 L386.59,273.21 L386.78,273.27 L386.97,273.34 L387.16,273.41 L387.35,273.48 L387.54,273.54 L387.72,273.61 M389.73,274.23 L389.93,274.25 L390.13,274.28 L390.33,274.31 L390.53,274.34 L390.72,274.37 L390.92,274.40 L391.12,274.43 L391.32,274.46 L391.52,274.49 L391.72,274.52 L391.91,274.55 L392.11,274.58 L392.31,274.60 L392.51,274.63 L392.71,274.66 L392.91,274.69 L393.11,274.72 L393.30,274.75 L393.50,274.78 L393.70,274.81 L393.90,274.84 L394.10,274.87 L394.30,274.90 L394.49,274.93 L394.69,274.95 L394.89,274.98 L395.09,275.01 L395.29,275.04 L395.49,275.07 L395.59,275.09 M397.69,275.33 L397.89,275.35 L398.09,275.37 L398.29,275.39 L398.49,275.40 L398.69,275.42 L398.89,275.44 L399.09,275.46 L399.30,275.48 L399.50,275.50 L399.70,275.52 L399.90,275.54 L400.10,275.56 L400.30,275.60 L400.49,275.64 L400.69,275.68 L400.89,275.71 L401.08,275.75 L401.28,275.79 L401.48,275.83 L401.67,275.86 L401.87,275.90 L402.07,275.94 L402.26,275.97 L402.46,276.01 L402.66,276.05 L402.85,276.09 L403.05,276.12 L403.25,276.16 L403.44,276.20 L403.54,276.22 M405.61,276.61 L405.80,276.64 L406.00,276.68 L406.20,276.72 L406.39,276.76 L406.59,276.79 L406.79,276.83 L406.98,276.87 L407.18,276.91 L407.38,276.94 L407.57,276.98 L407.77,277.02 L407.97,277.05 L408.17,277.09 L408.36,277.13 L408.56,277.16 L408.76,277.19 L408.95,277.23 L409.15,277.26 L409.35,277.30 L409.55,277.33 L409.74,277.37 L409.94,277.40 L410.14,277.43 L410.34,277.47 L410.53,277.50 L410.73,277.54 L410.93,277.57 L411.13,277.60 L411.32,277.64 L411.47,277.66 M413.55,278.02 L413.74,278.06 L413.94,278.09 L414.14,278.13 L414.34,278.16 L414.54,278.18 L414.73,278.20 L414.93,278.22 L415.13,278.24 L415.33,278.26 L415.53,278.28 L415.73,278.30 L415.93,278.32 L416.13,278.34 L416.33,278.36 L416.53,278.38 L416.73,278.40 L416.93,278.42 L417.13,278.45 L417.33,278.47 L417.53,278.49 L417.73,278.51 L417.93,278.53 L418.13,278.55 L418.33,278.57 L418.53,278.59 L418.73,278.61 L418.92,278.63 L419.12,278.65 L419.32,278.67 L419.42,278.68 M421.52,278.90 L421.72,278.92 L421.92,278.94 L422.12,278.96 L422.32,278.98 L422.52,279.00 L422.72,279.02 L422.92,279.04 L423.11,279.07 L423.31,279.09 L423.51,279.12 L423.71,279.15 L423.91,279.18 L424.11,279.21 L424.31,279.25 L424.50,279.28 L424.70,279.31 L424.90,279.34 L425.10,279.37 L425.30,279.40 L425.50,279.43 L425.69,279.46 L425.89,279.49 L426.09,279.52 L426.29,279.55 L426.49,279.58 L426.69,279.61 L426.88,279.65 L427.08,279.68 L427.28,279.71 L427.38,279.72 M429.46,280.05 L429.66,280.08 L429.86,280.11 L430.06,280.14 L430.26,280.17 L430.46,280.20 L430.65,280.23 L430.85,280.26 L431.05,280.29 L431.25,280.32 L431.45,280.35 L431.65,280.39 L431.85,280.42 L432.04,280.45 L432.24,280.48 L432.44,280.52 L432.64,280.55 L432.83,280.59 L433.03,280.63 L433.23,280.67 L433.43,280.70 L433.63,280.74 L433.82,280.78 L434.02,280.81 L434.22,280.85 L434.42,280.89 L434.61,280.92 L434.81,280.96 L435.01,281.00 L435.21,281.04 L435.31,281.05 M437.38,281.44 L437.58,281.48 L437.78,281.52 L437.97,281.55 L438.17,281.59 L438.37,281.63 L438.57,281.66 L438.76,281.70 L438.96,281.74 L439.16,281.78 L439.36,281.81 L439.56,281.85 L439.75,281.89 L439.95,281.92 L440.15,281.95 L440.35,281.98 L440.55,282.01 L440.75,282.03 L440.95,282.06 L441.15,282.09 L441.34,282.11 L441.54,282.14 L441.74,282.16 L441.94,282.19 L442.14,282.22 L442.34,282.24 L442.54,282.27 L442.74,282.30 L442.94,282.32 L443.14,282.35 L443.24,282.36 M445.33,282.64 L445.53,282.67 L445.73,282.69 L445.92,282.72 L446.12,282.75 L446.32,282.77 L446.52,282.80 L446.72,282.83 L446.92,282.85 L447.12,282.88 L447.32,282.91 L447.52,282.93 L447.72,282.96 L447.92,282.99 L448.11,283.01 L448.31,283.04 L448.51,283.06 L448.71,283.08 L448.91,283.10 L449.11,283.12 L449.31,283.14 L449.51,283.16 L449.71,283.18 L449.91,283.20 L450.11,283.22 L450.31,283.24 L450.50,283.26 L450.70,283.28 L450.90,283.30 L451.10,283.32 L451.20,283.33 M453.29,283.54 L453.49,283.57 L453.69,283.59 L453.89,283.61 L454.09,283.63 L454.29,283.65 L454.49,283.67 L454.69,283.69 L454.89,283.71 L455.08,283.73 L455.28,283.75 L455.48,283.77 L455.68,283.79 L455.88,283.81 L456.08,283.83 L456.28,283.85 L456.48,283.87 L456.68,283.90 L456.88,283.92 L457.07,283.95 L457.27,283.97 L457.47,284.00 L457.67,284.03 L457.87,284.05 L458.07,284.08 L458.27,284.10 L458.46,284.13 L458.66,284.15 L458.86,284.18 L459.06,284.20 L459.16,284.22 M461.25,284.49 L461.45,284.51 L461.64,284.54 L461.84,284.56 L462.04,284.59 L462.24,284.61 L462.44,284.64 L462.64,284.67 L462.84,284.69 L463.03,284.72 L463.23,284.74 L463.43,284.77 L463.63,284.79 L463.83,284.82 L464.03,284.85 L464.23,284.88 L464.43,284.90 L464.62,284.93 L464.82,284.96 L465.02,284.99 L465.22,285.02 L465.42,285.05 L465.62,285.08 L465.82,285.10 L466.02,285.13 L466.22,285.16 L466.42,285.19 L466.61,285.22 L466.81,285.25 L467.01,285.28 L467.11,285.29 M469.20,285.59 L469.40,285.62 L469.60,285.65 L469.80,285.68 L470.00,285.71 L470.19,285.74 L470.39,285.77 L470.59,285.79 L470.79,285.82 L470.99,285.85 L471.19,285.88 L471.39,285.91 L471.59,285.94 L471.79,285.97 L471.98,286.00 L472.18,286.03 L472.38,286.07 L472.58,286.10 L472.78,286.13 L472.97,286.16 L473.17,286.20 L473.37,286.23 L473.57,286.26 L473.77,286.30 L473.97,286.33 L474.16,286.36 L474.36,286.40 L474.56,286.43 L474.76,286.46 L474.96,286.49 L475.06,286.51 M477.14,286.86 L477.33,286.89 L477.53,286.92 L477.73,286.96 L477.93,286.99 L478.13,287.02 L478.33,287.06 L478.52,287.09 L478.72,287.12 L478.92,287.16 L479.12,287.19 L479.32,287.22 L479.51,287.25 L479.71,287.29 L479.91,287.32 L480.11,287.35 L480.31,287.39 L480.51,287.41 L480.71,287.43 L480.90,287.45 L481.10,287.48 L481.30,287.50 L481.50,287.52 L481.70,287.54 L481.90,287.56 L482.10,287.58 L482.30,287.61 L482.50,287.63 L482.70,287.65 L482.89,287.67 L482.99,287.68 M485.08,287.91 L485.28,287.93 L485.48,287.95 L485.68,287.97 L485.88,287.99 L486.08,288.02 L486.28,288.04 L486.48,288.06 L486.67,288.08 L486.87,288.10 L487.07,288.12 L487.27,288.15 L487.47,288.17 L487.67,288.19 L487.87,288.21 L488.07,288.23 L488.27,288.25 L488.47,288.28 L488.66,288.30 L488.86,288.32 L489.06,288.34 L489.26,288.36 L489.46,288.38 L489.66,288.41 L489.86,288.43 L490.06,288.45 L490.26,288.47 L490.46,288.49 L490.65,288.51 L490.85,288.53 L491.00,288.55 M493.09,288.78 L493.29,288.80 L493.49,288.82 L493.69,288.84 L493.89,288.86 L494.09,288.89 L494.29,288.91" stroke-width="2.0"/>
<polyline points="48.93,36.13 49.82,50.42 50.79,62.18 51.71,68.91 52.75,77.61 53.89,85.63 54.89,92.31 55.89,99.03 57.04,105.71 57.71,110.08 58.50,115.38 60.11,121.30 61.79,127.27 63.75,132.52 66.29,137.82 69.07,142.44 71.89,146.39 74.14,150.38 76.93,153.66 80.32,156.30 84.79,158.95 89.29,160.92 94.89,162.31 100.00,164.37 105.61,166.39 111.21,169.33 115.71,171.97 120.71,175.21 125.25,179.24 129.75,182.86 133.68,186.13 138.18,189.79 142.64,193.70 146.57,197.65 150.50,199.16 156.07,201.01 161.75,202.69 167.36,204.33 172.96,206.30 178.57,208.19 184.18,209.66 192.61,210.67 198.21,212.61 203.82,214.66 209.43,216.30 215.00,217.94 220.68,219.58 226.29,221.60 231.89,223.91 237.50,226.47 243.11,229.16 248.71,231.81 253.57,234.62 259.18,237.44 264.79,240.76 270.39,243.70 276.04,246.05 281.64,248.70 287.25,251.01 292.86,252.94 298.46,254.87 304.07,256.43 309.68,257.77 315.32,259.12 320.93,260.42 326.54,261.68 332.14,262.77 335.71,263.61 345.25,264.54 356.43,265.88 368.82,266.81 375.00,267.82 382.14,270.59 388.93,273.53 394.64,276.30 400.00,279.20 406.43,282.48 412.50,284.87 419.29,287.06 478.57,287.06 485.71,287.56 494.29,288.74" stroke-width="2.1"/>
<polyline points="48.32,40.46 52.50,72.69 57.86,115.38 62.61,131.39 67.43,126.55 72.29,144.66 77.50,156.72 82.50,164.71 87.50,160.25 92.57,172.06 97.50,157.02 102.57,149.83 107.29,163.87 111.64,158.99 116.71,182.23 121.64,195.34 134.75,185.38 146.96,198.45 158.93,193.36 172.00,207.56 183.93,209.87 196.07,207.44 208.25,211.47 221.25,223.95 233.29,226.18 245.43,240.76 258.57,236.85 270.57,244.96 282.68,241.93 295.79,257.06 307.86,267.31 319.93,245.04 332.86,275.42 345.07,264.92 357.25,274.41 369.29,269.24 382.36,264.16 394.36,277.39 406.50,282.44 419.50,287.94 431.71,275.50 443.79,290.63 456.93,297.73 468.93,290.63 480.96,280.55 494.04,290.63" stroke-width="0.7"/>
</g>
<path fill="#000" fill-rule="nonzero" d="M122.50,95.05h25.6v2.5h-25.6zM133.85,85.60h2.9v21.4h-2.9zM131.10,92.70h8.4v7.2h-8.4zM128.20,90.40h3v2.5h-3zM139.40,90.40h3v2.5h-3zM128.20,99.70h3v2.5h-3zM139.40,99.70h3v2.5h-3z M134.20,171.75h25.6v2.5h-25.6zM145.55,162.30h2.9v21.4h-2.9zM142.80,169.40h8.4v7.2h-8.4zM139.90,167.10h3v2.5h-3zM151.10,167.10h3v2.5h-3zM139.90,176.40h3v2.5h-3zM151.10,176.40h3v2.5h-3z M149.20,273.35h25.6v2.5h-25.6zM160.55,263.90h2.9v21.4h-2.9zM157.80,271.00h8.4v7.2h-8.4zM154.90,268.70h3v2.5h-3zM166.10,268.70h3v2.5h-3zM154.90,278.00h3v2.5h-3zM166.10,278.00h3v2.5h-3z M162.50,311.45h25.6v2.5h-25.6zM173.85,302.00h2.9v21.4h-2.9zM171.10,309.10h8.4v7.2h-8.4zM168.20,306.80h3v2.5h-3zM179.40,306.80h3v2.5h-3zM168.20,316.10h3v2.5h-3zM179.40,316.10h3v2.5h-3z M176.00,299.95h25.6v2.5h-25.6zM187.35,290.50h2.9v21.4h-2.9zM184.60,297.60h8.4v7.2h-8.4zM181.70,295.30h3v2.5h-3zM192.90,295.30h3v2.5h-3zM181.70,304.60h3v2.5h-3zM192.90,304.60h3v2.5h-3z M189.60,343.05h25.6v2.5h-25.6zM200.95,333.60h2.9v21.4h-2.9zM198.20,340.70h8.4v7.2h-8.4zM195.30,338.40h3v2.5h-3zM206.50,338.40h3v2.5h-3zM195.30,347.70h3v2.5h-3zM206.50,347.70h3v2.5h-3z M204.20,371.75h25.6v2.5h-25.6zM215.55,362.30h2.9v21.4h-2.9zM212.80,369.40h8.4v7.2h-8.4zM209.90,367.10h3v2.5h-3zM221.10,367.10h3v2.5h-3zM209.90,376.40h3v2.5h-3zM221.10,376.40h3v2.5h-3z M218.20,390.75h25.6v2.5h-25.6zM229.55,381.30h2.9v21.4h-2.9zM226.80,388.40h8.4v7.2h-8.4zM223.90,386.10h3v2.5h-3zM235.10,386.10h3v2.5h-3zM223.90,395.40h3v2.5h-3zM235.10,395.40h3v2.5h-3z M232.20,380.15h25.6v2.5h-25.6zM243.55,370.70h2.9v21.4h-2.9zM240.80,377.80h8.4v7.2h-8.4zM237.90,375.50h3v2.5h-3zM249.10,375.50h3v2.5h-3zM237.90,384.80h3v2.5h-3zM249.10,384.80h3v2.5h-3z M246.40,408.25h25.6v2.5h-25.6zM257.75,398.80h2.9v21.4h-2.9zM255.00,405.90h8.4v7.2h-8.4zM252.10,403.60h3v2.5h-3zM263.30,403.60h3v2.5h-3zM252.10,412.90h3v2.5h-3zM263.30,412.90h3v2.5h-3z M260.20,372.45h25.6v2.5h-25.6zM271.55,363.00h2.9v21.4h-2.9zM268.80,370.10h8.4v7.2h-8.4zM265.90,367.80h3v2.5h-3zM277.10,367.80h3v2.5h-3zM265.90,377.10h3v2.5h-3zM277.10,377.10h3v2.5h-3z M274.40,355.35h25.6v2.5h-25.6zM285.75,345.90h2.9v21.4h-2.9zM283.00,353.00h8.4v7.2h-8.4zM280.10,350.70h3v2.5h-3zM291.30,350.70h3v2.5h-3zM280.10,360.00h3v2.5h-3zM291.30,360.00h3v2.5h-3z M287.60,388.75h25.6v2.5h-25.6zM298.95,379.30h2.9v21.4h-2.9zM296.20,386.40h8.4v7.2h-8.4zM293.30,384.10h3v2.5h-3zM304.50,384.10h3v2.5h-3zM293.30,393.40h3v2.5h-3zM304.50,393.40h3v2.5h-3z M299.80,377.15h25.6v2.5h-25.6zM311.15,367.70h2.9v21.4h-2.9zM308.40,374.80h8.4v7.2h-8.4zM305.50,372.50h3v2.5h-3zM316.70,372.50h3v2.5h-3zM305.50,381.80h3v2.5h-3zM316.70,381.80h3v2.5h-3z M314.00,432.45h25.6v2.5h-25.6zM325.35,423.00h2.9v21.4h-2.9zM322.60,430.10h8.4v7.2h-8.4zM319.70,427.80h3v2.5h-3zM330.90,427.80h3v2.5h-3zM319.70,437.10h3v2.5h-3zM330.90,437.10h3v2.5h-3z M327.80,463.65h25.6v2.5h-25.6zM339.15,454.20h2.9v21.4h-2.9zM336.40,461.30h8.4v7.2h-8.4zM333.50,459.00h3v2.5h-3zM344.70,459.00h3v2.5h-3zM333.50,468.30h3v2.5h-3zM344.70,468.30h3v2.5h-3z M364.50,439.95h25.6v2.5h-25.6zM375.85,430.50h2.9v21.4h-2.9zM373.10,437.60h8.4v7.2h-8.4zM370.20,435.30h3v2.5h-3zM381.40,435.30h3v2.5h-3zM370.20,444.60h3v2.5h-3zM381.40,444.60h3v2.5h-3z M398.70,471.05h25.6v2.5h-25.6zM410.05,461.60h2.9v21.4h-2.9zM407.30,468.70h8.4v7.2h-8.4zM404.40,466.40h3v2.5h-3zM415.60,466.40h3v2.5h-3zM404.40,475.70h3v2.5h-3zM415.60,475.70h3v2.5h-3z M432.20,458.95h25.6v2.5h-25.6zM443.55,449.50h2.9v21.4h-2.9zM440.80,456.60h8.4v7.2h-8.4zM437.90,454.30h3v2.5h-3zM449.10,454.30h3v2.5h-3zM437.90,463.60h3v2.5h-3zM449.10,463.60h3v2.5h-3z M468.80,492.75h25.6v2.5h-25.6zM480.15,483.30h2.9v21.4h-2.9zM477.40,490.40h8.4v7.2h-8.4zM474.50,488.10h3v2.5h-3zM485.70,488.10h3v2.5h-3zM474.50,497.40h3v2.5h-3zM485.70,497.40h3v2.5h-3z M502.20,498.25h25.6v2.5h-25.6zM513.55,488.80h2.9v21.4h-2.9zM510.80,495.90h8.4v7.2h-8.4zM507.90,493.60h3v2.5h-3zM519.10,493.60h3v2.5h-3zM507.90,502.90h3v2.5h-3zM519.10,502.90h3v2.5h-3z M536.20,492.45h25.6v2.5h-25.6zM547.55,483.00h2.9v21.4h-2.9zM544.80,490.10h8.4v7.2h-8.4zM541.90,487.80h3v2.5h-3zM553.10,487.80h3v2.5h-3zM541.90,497.10h3v2.5h-3zM553.10,497.10h3v2.5h-3z M570.30,502.05h25.6v2.5h-25.6zM581.65,492.60h2.9v21.4h-2.9zM578.90,499.70h8.4v7.2h-8.4zM576.00,497.40h3v2.5h-3zM587.20,497.40h3v2.5h-3zM576.00,506.70h3v2.5h-3zM587.20,506.70h3v2.5h-3z M606.70,531.75h25.6v2.5h-25.6zM618.05,522.30h2.9v21.4h-2.9zM615.30,529.40h8.4v7.2h-8.4zM612.40,527.10h3v2.5h-3zM623.60,527.10h3v2.5h-3zM612.40,536.40h3v2.5h-3zM623.60,536.40h3v2.5h-3z M640.40,537.05h25.6v2.5h-25.6zM651.75,527.60h2.9v21.4h-2.9zM649.00,534.70h8.4v7.2h-8.4zM646.10,532.40h3v2.5h-3zM657.30,532.40h3v2.5h-3zM646.10,541.70h3v2.5h-3zM657.30,541.70h3v2.5h-3z M674.40,571.75h25.6v2.5h-25.6zM685.75,562.30h2.9v21.4h-2.9zM683.00,569.40h8.4v7.2h-8.4zM680.10,567.10h3v2.5h-3zM691.30,567.10h3v2.5h-3zM680.10,576.40h3v2.5h-3zM691.30,576.40h3v2.5h-3z M711.20,562.45h25.6v2.5h-25.6zM722.55,553.00h2.9v21.4h-2.9zM719.80,560.10h8.4v7.2h-8.4zM716.90,557.80h3v2.5h-3zM728.10,557.80h3v2.5h-3zM716.90,567.10h3v2.5h-3zM728.10,567.10h3v2.5h-3z M744.80,581.75h25.6v2.5h-25.6zM756.15,572.30h2.9v21.4h-2.9zM753.40,579.40h8.4v7.2h-8.4zM750.50,577.10h3v2.5h-3zM761.70,577.10h3v2.5h-3zM750.50,586.40h3v2.5h-3zM761.70,586.40h3v2.5h-3z M778.70,574.55h25.6v2.5h-25.6zM790.05,565.10h2.9v21.4h-2.9zM787.30,572.20h8.4v7.2h-8.4zM784.40,569.90h3v2.5h-3zM795.60,569.90h3v2.5h-3zM784.40,579.20h3v2.5h-3zM795.60,579.20h3v2.5h-3z M815.40,610.55h25.6v2.5h-25.6zM826.75,601.10h2.9v21.4h-2.9zM824.00,608.20h8.4v7.2h-8.4zM821.10,605.90h3v2.5h-3zM832.30,605.90h3v2.5h-3zM821.10,615.20h3v2.5h-3zM832.30,615.20h3v2.5h-3z M849.20,634.95h25.6v2.5h-25.6zM860.55,625.50h2.9v21.4h-2.9zM857.80,632.60h8.4v7.2h-8.4zM854.90,630.30h3v2.5h-3zM866.10,630.30h3v2.5h-3zM854.90,639.60h3v2.5h-3zM866.10,639.60h3v2.5h-3z M883.00,581.95h25.6v2.5h-25.6zM894.35,572.50h2.9v21.4h-2.9zM891.60,579.60h8.4v7.2h-8.4zM888.70,577.30h3v2.5h-3zM899.90,577.30h3v2.5h-3zM888.70,586.60h3v2.5h-3zM899.90,586.60h3v2.5h-3z M919.20,654.25h25.6v2.5h-25.6zM930.55,644.80h2.9v21.4h-2.9zM927.80,651.90h8.4v7.2h-8.4zM924.90,649.60h3v2.5h-3zM936.10,649.60h3v2.5h-3zM924.90,658.90h3v2.5h-3zM936.10,658.90h3v2.5h-3z M953.40,629.25h25.6v2.5h-25.6zM964.75,619.80h2.9v21.4h-2.9zM962.00,626.90h8.4v7.2h-8.4zM959.10,624.60h3v2.5h-3zM970.30,624.60h3v2.5h-3zM959.10,633.90h3v2.5h-3zM970.30,633.90h3v2.5h-3z M987.50,651.85h25.6v2.5h-25.6zM998.85,642.40h2.9v21.4h-2.9zM996.10,649.50h8.4v7.2h-8.4zM993.20,647.20h3v2.5h-3zM1004.40,647.20h3v2.5h-3zM993.20,656.50h3v2.5h-3zM1004.40,656.50h3v2.5h-3z M1021.20,639.55h25.6v2.5h-25.6zM1032.55,630.10h2.9v21.4h-2.9zM1029.80,637.20h8.4v7.2h-8.4zM1026.90,634.90h3v2.5h-3zM1038.10,634.90h3v2.5h-3zM1026.90,644.20h3v2.5h-3zM1038.10,644.20h3v2.5h-3z M1057.80,627.45h25.6v2.5h-25.6zM1069.15,618.00h2.9v21.4h-2.9zM1066.40,625.10h8.4v7.2h-8.4zM1063.50,622.80h3v2.5h-3zM1074.70,622.80h3v2.5h-3zM1063.50,632.10h3v2.5h-3zM1074.70,632.10h3v2.5h-3z M1091.40,658.95h25.6v2.5h-25.6zM1102.75,649.50h2.9v21.4h-2.9zM1100.00,656.60h8.4v7.2h-8.4zM1097.10,654.30h3v2.5h-3zM1108.30,654.30h3v2.5h-3zM1097.10,663.60h3v2.5h-3zM1108.30,663.60h3v2.5h-3z M1125.40,670.95h25.6v2.5h-25.6zM1136.75,661.50h2.9v21.4h-2.9zM1134.00,668.60h8.4v7.2h-8.4zM1131.10,666.30h3v2.5h-3zM1142.30,666.30h3v2.5h-3zM1131.10,675.60h3v2.5h-3zM1142.30,675.60h3v2.5h-3z M1161.80,684.05h25.6v2.5h-25.6zM1173.15,674.60h2.9v21.4h-2.9zM1170.40,681.70h8.4v7.2h-8.4zM1167.50,679.40h3v2.5h-3zM1178.70,679.40h3v2.5h-3zM1167.50,688.70h3v2.5h-3zM1178.70,688.70h3v2.5h-3z M1196.00,654.45h25.6v2.5h-25.6zM1207.35,645.00h2.9v21.4h-2.9zM1204.60,652.10h8.4v7.2h-8.4zM1201.70,649.80h3v2.5h-3zM1212.90,649.80h3v2.5h-3zM1201.70,659.10h3v2.5h-3zM1212.90,659.10h3v2.5h-3z M1229.80,690.45h25.6v2.5h-25.6zM1241.15,681.00h2.9v21.4h-2.9zM1238.40,688.10h8.4v7.2h-8.4zM1235.50,685.80h3v2.5h-3zM1246.70,685.80h3v2.5h-3zM1235.50,695.10h3v2.5h-3zM1246.70,695.10h3v2.5h-3z M1266.60,707.35h25.6v2.5h-25.6zM1277.95,697.90h2.9v21.4h-2.9zM1275.20,705.00h8.4v7.2h-8.4zM1272.30,702.70h3v2.5h-3zM1283.50,702.70h3v2.5h-3zM1272.30,712.00h3v2.5h-3zM1283.50,712.00h3v2.5h-3z M1300.20,690.45h25.6v2.5h-25.6zM1311.55,681.00h2.9v21.4h-2.9zM1308.80,688.10h8.4v7.2h-8.4zM1305.90,685.80h3v2.5h-3zM1317.10,685.80h3v2.5h-3zM1305.90,695.10h3v2.5h-3zM1317.10,695.10h3v2.5h-3z M1333.90,666.45h25.6v2.5h-25.6zM1345.25,657.00h2.9v21.4h-2.9zM1342.50,664.10h8.4v7.2h-8.4zM1339.60,661.80h3v2.5h-3zM1350.80,661.80h3v2.5h-3zM1339.60,671.10h3v2.5h-3zM1350.80,671.10h3v2.5h-3z M1370.50,690.45h25.6v2.5h-25.6zM1381.85,681.00h2.9v21.4h-2.9zM1379.10,688.10h8.4v7.2h-8.4zM1376.20,685.80h3v2.5h-3zM1387.40,685.80h3v2.5h-3zM1376.20,695.10h3v2.5h-3zM1387.40,695.10h3v2.5h-3z"/>
<line x1="198.3" y1="76.9" x2="311.5" y2="76.9" stroke="#000" stroke-width="2.3"/>
<path fill="#000" d="M243.50,75.65h25.6v2.5h-25.6zM254.85,66.20h2.9v21.4h-2.9zM252.10,73.30h8.4v7.2h-8.4zM249.20,71.00h3v2.5h-3zM260.40,71.00h3v2.5h-3zM249.20,80.30h3v2.5h-3zM260.40,80.30h3v2.5h-3z"/>
<line x1="198.4" y1="121.7" x2="305.6" y2="121.7" stroke="#000" stroke-width="5.2" stroke-dasharray="16.8 5.8"/>
<line x1="198.3" y1="167.5" x2="311.5" y2="167.5" stroke="#000" stroke-width="5.2"/>
<text class="lg" transform="translate(321.80,90.2) scale(1.0,1)" letter-spacing="1.50">The</text>
<text class="lg" transform="translate(393.20,90.2) scale(1.0,1)" letter-spacing="1.53">true</text>
<text class="lg" transform="translate(466.20,90.2) scale(1.0,1)" letter-spacing="0.60">value</text>
<text class="lg" transform="translate(322.50,135.8) scale(1.0,1)" letter-spacing="1.52">Propagation</text>
<text class="lg" transform="translate(528.60,135.8) scale(1.0,1)" letter-spacing="1.67">model</text>
<text class="lg" transform="translate(637.50,135.8) scale(1.0,1)" letter-spacing="1.43">fitting</text>
<text class="lg" transform="translate(737.10,135.8) scale(1.0,1)" letter-spacing="1.82">results</text>
<text class="lg" transform="translate(321.99,182) scale(1.09,1)" letter-spacing="1.32">LSSVM</text>
<text class="lg" transform="translate(460.20,182) scale(1.0,1)" letter-spacing="1.40">fitting</text>
<text class="lg" transform="translate(559.80,182) scale(1.0,1)" letter-spacing="1.80">results</text>
</svg></body></html>
